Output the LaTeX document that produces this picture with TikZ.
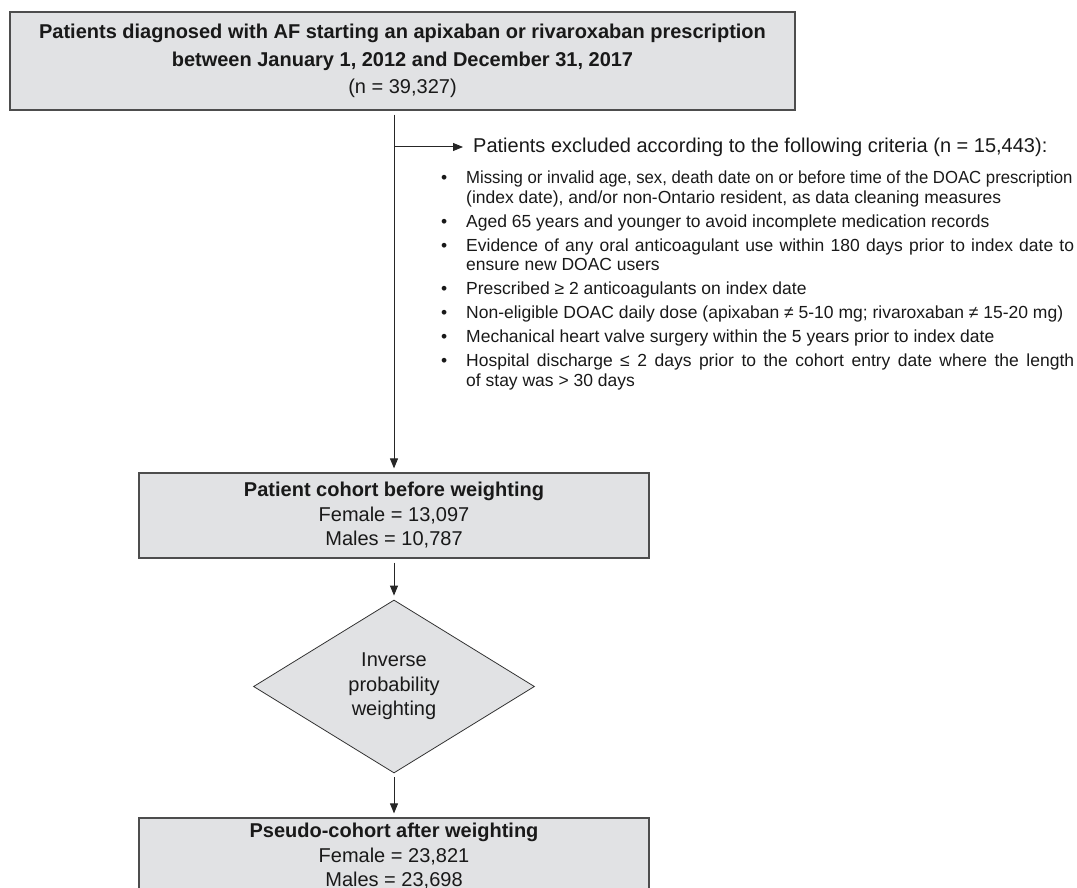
\documentclass[tikz,border=0pt]{standalone}
\usepackage{fontspec}
\setmainfont{Liberation Sans}
\usetikzlibrary{positioning, shapes.geometric, arrows.meta, calc}
\definecolor{boxgrey}{HTML}{E1E2E4}
\definecolor{edgegrey}{HTML}{4D4D4D}
\tikzset{
  flow/.style={-{Triangle[length=10, width=8]}, draw=black!85, line width=1, shorten <=4, shorten >=4},
  stage/.style={draw=edgegrey, fill=boxgrey, line width=1.2, minimum width=510, align=center, inner sep=0, font=\fontsize{20}{24.5}\selectfont},
  weigh/.style={diamond, draw=black!80, fill=boxgrey, line width=0.8, minimum width=281, minimum height=173, aspect=1.62, inner sep=0, align=center, font=\fontsize{20}{24.5}\selectfont},
  every node/.style={text=black!90}
}
\begin{document}
\begin{tikzpicture}[x=1pt, y=-1pt]
  \useasboundingbox (0,0) rectangle (1077,888);
  \node[stage, minimum width=785, minimum height=98, font=\fontsize{20}{27.5}\selectfont] (cohort) at (402.5,61)
    {\textbf{Patients diagnosed with AF starting an apixaban or rivaroxaban prescription}\\
     \textbf{between January 1, 2012 and December 31, 2017}\\(n = 39,327)};
  \node[stage, minimum height=85] (before) at (394,515.5)
    {\textbf{Patient cohort before weighting}\\Female = 13,097\\Males = 10,787};
  \node[weigh, below=41pt of before] (ipw) {Inverse\\probability\\weighting};
  \node[stage, minimum height=77, below=44pt of ipw] (after)
    {\textbf{Pseudo-cohort after weighting}\\Female = 23,821\\Males = 23,698};
  % exclusion criteria
  \node[anchor=west, inner sep=0, font=\fontsize{20}{24}\selectfont] (excl) at (473,147)
    {Patients excluded according to the following criteria (n = 15,443):};
  \node[anchor=north west, inner sep=0, font=\fontsize{17.5}{19.5}\selectfont] (crit) at (441,170) {%
    \begin{tabular}{@{}p{25pt}@{}l@{}}
      \textbullet & \scalebox{0.956}[1]{Missing or invalid age, sex, death date on or before time of the DOAC prescription}\\
        & (index date), and/or non-Ontario resident, as data cleaning measures\\[4.5pt]
      \textbullet & Aged 65 years and younger to avoid incomplete medication records\\[4.5pt]
      \textbullet & \makebox[608pt][s]{Evidence of any oral anticoagulant use within 180 days prior to index date to}\\
        & ensure new DOAC users\\[4.5pt]
      \textbullet & Prescribed ≥ 2 anticoagulants on index date\\[4.5pt]
      \textbullet & Non-eligible DOAC daily dose (apixaban ≠ 5-10 mg; rivaroxaban ≠ 15-20 mg)\\[4.5pt]
      \textbullet & Mechanical heart valve surgery within the 5 years prior to index date\\[4.5pt]
      \textbullet & \makebox[608pt][s]{Hospital discharge ≤ 2 days prior to the cohort entry date where the length}\\
        & of stay was > 30 days
    \end{tabular}};
  \coordinate (branch) at (before.north |- excl.west);
  \draw[flow] (before.north |- cohort.south) -- (before.north);
  \draw[flow, shorten <=0, shorten >=10] (branch) -- (excl.west);
  \draw[flow] (before) -- (ipw);
  \draw[flow] (ipw) -- (after);
\end{tikzpicture}
\end{document}
